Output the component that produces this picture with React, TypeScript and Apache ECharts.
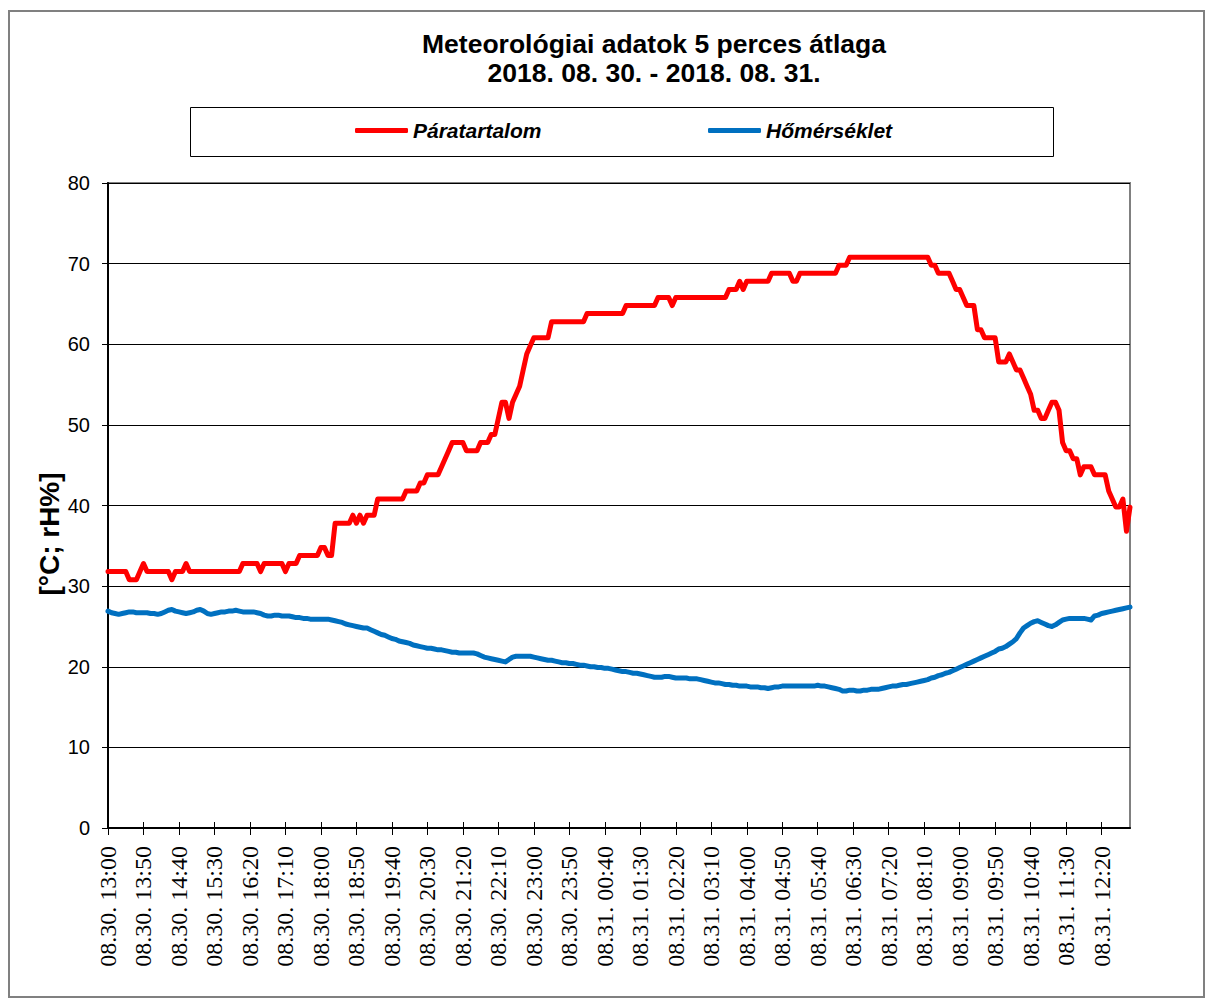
import React, { useEffect, useRef } from "react";
import * as echarts from "echarts";

// Relative humidity (rH%), 5-minute averages, 08.30. 13:00 – 08.30. 23:55
const humidityAug30 = [
  31.8, 31.8, 31.8, 31.8, 31.8, 31.8, 30.8, 30.8, 30.8, 31.8, 32.8, 31.8,
  31.8, 31.8, 31.8, 31.8, 31.8, 31.8, 30.8, 31.8, 31.8, 31.8, 32.8, 31.8,
  31.8, 31.8, 31.8, 31.8, 31.8, 31.8, 31.8, 31.8, 31.8, 31.8, 31.8, 31.8,
  31.8, 31.8, 32.8, 32.8, 32.8, 32.8, 32.8, 31.8, 32.8, 32.8, 32.8, 32.8,
  32.8, 32.8, 31.8, 32.8, 32.8, 32.8, 33.8, 33.8, 33.8, 33.8, 33.8, 33.8,
  34.8, 34.8, 33.8, 33.8, 37.8, 37.8, 37.8, 37.8, 37.8, 38.8, 37.8, 38.8,
  37.8, 38.8, 38.8, 38.8, 40.8, 40.8, 40.8, 40.8, 40.8, 40.8, 40.8, 40.8,
  41.8, 41.8, 41.8, 41.8, 42.8, 42.8, 43.8, 43.8, 43.8, 43.8, 44.8, 45.8,
  46.8, 47.8, 47.8, 47.8, 47.8, 46.8, 46.8, 46.8, 46.8, 47.8, 47.8, 47.8,
  48.8, 48.8, 50.8, 52.8, 52.8, 50.8, 52.8, 53.8, 54.8, 56.8, 58.8, 59.8,
  60.8, 60.8, 60.8, 60.8, 60.8, 62.8, 62.8, 62.8, 62.8, 62.8, 62.8, 62.8,
];

// Relative humidity (rH%), 08.31. 00:00 – 08.31. 13:00
const humidityAug31 = [
  62.8, 62.8, 62.8, 63.8, 63.8, 63.8, 63.8, 63.8, 63.8, 63.8, 63.8, 63.8,
  63.8, 63.8, 64.8, 64.8, 64.8, 64.8, 64.8, 64.8, 64.8, 64.8, 64.8, 65.8,
  65.8, 65.8, 65.8, 64.8, 65.8, 65.8, 65.8, 65.8, 65.8, 65.8, 65.8, 65.8,
  65.8, 65.8, 65.8, 65.8, 65.8, 65.8, 65.8, 66.8, 66.8, 66.8, 67.8, 66.8,
  67.8, 67.8, 67.8, 67.8, 67.8, 67.8, 67.8, 68.8, 68.8, 68.8, 68.8, 68.8,
  68.8, 67.8, 67.8, 68.8, 68.8, 68.8, 68.8, 68.8, 68.8, 68.8, 68.8, 68.8,
  68.8, 68.8, 69.8, 69.8, 69.8, 70.8, 70.8, 70.8, 70.8, 70.8, 70.8, 70.8,
  70.8, 70.8, 70.8, 70.8, 70.8, 70.8, 70.8, 70.8, 70.8, 70.8, 70.8, 70.8,
  70.8, 70.8, 70.8, 70.8, 69.8, 69.8, 68.8, 68.8, 68.8, 68.8, 67.8, 66.8,
  66.8, 65.8, 64.8, 64.8, 64.8, 61.8, 61.8, 60.8, 60.8, 60.8, 60.8, 57.8,
  57.8, 57.8, 58.8, 57.8, 56.8, 56.8, 55.8, 54.8, 53.8, 51.8, 51.8, 50.8,
  50.8, 51.8, 52.8, 52.8, 51.8, 47.8, 46.8, 46.8, 45.8, 45.8, 43.8, 44.8,
  44.8, 44.8, 43.8, 43.8, 43.8, 43.8, 41.8, 40.8, 39.8, 39.8, 40.8, 36.8,
  39.8,
];

// Temperature (°C), 08.30. 13:00 – 08.30. 23:55
const temperatureAug30 = [
  26.9, 26.7, 26.6, 26.5, 26.6, 26.7, 26.8, 26.8, 26.7, 26.7, 26.7, 26.7,
  26.6, 26.6, 26.5, 26.6, 26.8, 27.0, 27.1, 26.9, 26.8, 26.7, 26.6, 26.7,
  26.8, 27.0, 27.1, 26.9, 26.6, 26.5, 26.6, 26.7, 26.8, 26.8, 26.9, 26.9,
  27.0, 26.9, 26.8, 26.8, 26.8, 26.8, 26.7, 26.6, 26.4, 26.3, 26.3, 26.4,
  26.4, 26.3, 26.3, 26.3, 26.2, 26.1, 26.1, 26.0, 26.0, 25.9, 25.9, 25.9,
  25.9, 25.9, 25.9, 25.8, 25.7, 25.6, 25.5, 25.3, 25.2, 25.1, 25.0, 24.9,
  24.8, 24.8, 24.6, 24.4, 24.2, 24.0, 23.9, 23.7, 23.5, 23.4, 23.2, 23.1,
  23.0, 22.9, 22.7, 22.6, 22.5, 22.4, 22.3, 22.3, 22.2, 22.1, 22.1, 22.0,
  21.9, 21.8, 21.8, 21.7, 21.7, 21.7, 21.7, 21.7, 21.6, 21.4, 21.2, 21.1,
  21.0, 20.9, 20.8, 20.7, 20.6, 20.9, 21.2, 21.3, 21.3, 21.3, 21.3, 21.3,
  21.2, 21.1, 21.0, 20.9, 20.8, 20.8, 20.7, 20.6, 20.5, 20.5, 20.4, 20.4,
];

// Temperature (°C), 08.31. 00:00 – 08.31. 13:00
const temperatureAug31 = [
  20.3, 20.2, 20.2, 20.1, 20.0, 20.0, 19.9, 19.9, 19.8, 19.8, 19.7, 19.6,
  19.5, 19.4, 19.4, 19.3, 19.2, 19.2, 19.1, 19.0, 18.9, 18.8, 18.7, 18.7,
  18.7, 18.8, 18.8, 18.7, 18.6, 18.6, 18.6, 18.6, 18.5, 18.5, 18.5, 18.4,
  18.3, 18.2, 18.1, 18.0, 18.0, 17.9, 17.8, 17.8, 17.7, 17.7, 17.6, 17.6,
  17.6, 17.5, 17.5, 17.5, 17.4, 17.4, 17.3, 17.4, 17.5, 17.5, 17.6, 17.6,
  17.6, 17.6, 17.6, 17.6, 17.6, 17.6, 17.6, 17.6, 17.7, 17.6, 17.6, 17.5,
  17.4, 17.3, 17.2, 17.0, 17.0, 17.1, 17.1, 17.0, 17.0, 17.1, 17.1, 17.2,
  17.2, 17.2, 17.3, 17.4, 17.5, 17.6, 17.6, 17.7, 17.8, 17.8, 17.9, 18.0,
  18.1, 18.2, 18.3, 18.4, 18.6, 18.7, 18.9, 19.0, 19.2, 19.3, 19.5, 19.7,
  19.9, 20.1, 20.3, 20.5, 20.7, 20.9, 21.1, 21.3, 21.5, 21.7, 21.9, 22.2,
  22.3, 22.5, 22.8, 23.1, 23.5, 24.2, 24.8, 25.1, 25.4, 25.6, 25.7, 25.5,
  25.3, 25.1, 25.0, 25.2, 25.5, 25.8, 25.9, 26.0, 26.0, 26.0, 26.0, 26.0,
  25.9, 25.8, 26.3, 26.4, 26.6, 26.7, 26.8, 26.9, 27.0, 27.1, 27.2, 27.3,
  27.4,
];

const titleLines = ["Meteorológiai adatok 5 perces átlaga", "2018. 08. 30. - 2018. 08. 31."];
const seriesNames = ["Páratartalom", "Hőmérséklet"];
const yAxisName = "[°C; rH%]";
const yMin = 0;
const yMax = 80;
const yStep = 10;
const startMonth = 8;
const startDay = 30;
const startMinutes = 13 * 60;
const stepMinutes = 5;
const labelEvery = 10;

const humidity = [...humidityAug30, ...humidityAug31];
const temperature = [...temperatureAug30, ...temperatureAug31];

const pad = (n: number) => (n < 10 ? "0" + n : "" + n);
const categories = humidity.map((_, i) => {
  const total = startMinutes + i * stepMinutes;
  const day = startDay + Math.floor(total / 1440);
  const m = total % 1440;
  return `${pad(startMonth)}.${pad(day)}. ${pad(Math.floor(m / 60))}:${pad(m % 60)}`;
});

const SANS = "Liberation Sans";
const SERIF = "Liberation Serif";

export default function App() {
  const ref = useRef<HTMLDivElement>(null);
  useEffect(() => {
    if (!ref.current) return;
    const chart = echarts.init(ref.current, undefined, { renderer: "svg" });
    const legendText = {
      fontFamily: SANS,
      fontWeight: "bold" as const,
      fontStyle: "italic" as const,
      fontSize: 21,
      color: "#000",
    };
    chart.setOption({
      animation: false,
      backgroundColor: "#fff",
      grid: { left: 108, top: 183, width: 1022, height: 645, show: true, borderColor: "#808080", borderWidth: 2, backgroundColor: "transparent" },
      legend: [
        {
          data: [seriesNames[0]],
          left: 355,
          top: 120,
          padding: 0,
          itemWidth: 53,
          itemHeight: 5,
          icon: "roundRect",
          selectedMode: false,
          textStyle: legendText,
        },
        {
          data: [seriesNames[1]],
          left: 708,
          top: 120,
          padding: 0,
          itemWidth: 53,
          itemHeight: 5,
          icon: "roundRect",
          selectedMode: false,
          textStyle: legendText,
        },
      ],
      xAxis: [
        {
          type: "category",
          data: categories,
          boundaryGap: false,
          axisLine: { lineStyle: { color: "#000", width: 2 } },
          axisTick: { show: true, interval: labelEvery - 1, length: 7, lineStyle: { color: "#000", width: 1 } },
          axisLabel: {
            interval: labelEvery - 1,
            rotate: 90,
            margin: 18,
            fontFamily: SERIF,
            fontSize: 24,
            color: "#000",
            formatter: (v: string) => `{t|${v}}`,
            rich: { t: { fontFamily: SERIF, fontSize: 24, color: "#000" } },
          },
          splitLine: { show: false },
        },
        {
          type: "category",
          data: categories,
          boundaryGap: false,
          position: "bottom",
          axisLine: { show: false },
          axisTick: { show: true, inside: true, interval: labelEvery - 1, length: 6, lineStyle: { color: "#000", width: 1 } },
          axisLabel: { show: false },
          splitLine: { show: false },
        },
      ],
      yAxis: {
        type: "value",
        min: yMin,
        max: yMax,
        interval: yStep,
        axisLine: { show: true, lineStyle: { color: "#000", width: 2 } },
        axisTick: { show: true, length: 6, lineStyle: { color: "#000" } },
        axisLabel: { margin: 18, fontFamily: SANS, fontSize: 20, color: "#000" },
        splitLine: { show: true, lineStyle: { color: "#000", width: 1 } },
      },
      graphic: [
        {
          type: "rect",
          z: -10,
          silent: true,
          shape: { x: 9, y: 11, width: 1195, height: 986 },
          style: { fill: "none", stroke: "#808080", lineWidth: 2 },
        },
        {
          type: "rect",
          silent: true,
          shape: { x: 190.5, y: 107.5, width: 863, height: 49 },
          style: { fill: "none", stroke: "#000", lineWidth: 1 },
        },
        {
          type: "text",
          x: 654,
          y: 44,
          style: { text: titleLines[0], fontFamily: SANS, fontWeight: "bold", fontSize: 26.5, fill: "#000", textAlign: "center", textVerticalAlign: "middle" },
        },
        {
          type: "text",
          x: 654,
          y: 73,
          style: { text: titleLines[1], fontFamily: SANS, fontWeight: "bold", fontSize: 26.5, fill: "#000", textAlign: "center", textVerticalAlign: "middle" },
        },
        {
          type: "text",
          x: 49,
          y: 534,
          rotation: Math.PI / 2,
          style: { text: yAxisName, fontFamily: SANS, fontWeight: "bold", fontSize: 28, fill: "#000", textAlign: "center", textVerticalAlign: "middle" },
        },
      ],
      series: [
        {
          name: seriesNames[0],
          type: "line",
          data: humidity,
          symbol: "none",
          color: "#FF0000",
          lineStyle: { color: "#FF0000", width: 5, join: "round", cap: "round" },
          z: 3,
        },
        {
          name: seriesNames[1],
          type: "line",
          data: temperature,
          symbol: "none",
          color: "#0070C0",
          lineStyle: { color: "#0070C0", width: 5, join: "round", cap: "round" },
          z: 3,
        },
      ],
    });
    return () => chart.dispose();
  }, []);
  return <div ref={ref} style={{ position: "fixed", left: 0, top: 0, width: 1208, height: 1001 }} />;
}
